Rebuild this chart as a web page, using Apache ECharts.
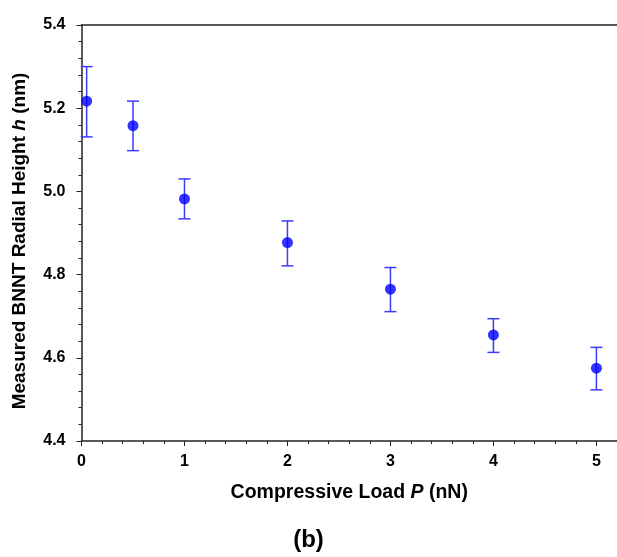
<!DOCTYPE html>
<html>
<head>
<meta charset="utf-8">
<script src="https://cdn.jsdelivr.net/npm/echarts@6/dist/echarts.min.js"></script>
<style>
  html, body { margin: 0; padding: 0; background: #fff; }
  #chart { width: 617px; height: 557px; }
</style>
</head>
<body>
<div id="chart"></div>
<script>
// compressive load P (nN)
const loads = [0.05, 0.5, 1, 2, 3, 4, 5];
// measured radial height h (nm)
const heights = [5.217, 5.158, 4.982, 4.877, 4.765, 4.655, 4.575];
// error bar ends
const errLow = [5.131, 5.098, 4.934, 4.821, 4.711, 4.613, 4.523];
const errHigh = [5.300, 5.217, 5.030, 4.929, 4.817, 4.694, 4.625];

const font = '"Liberation Sans", Arial, sans-serif';
const axisColor = '#222';

const chart = echarts.init(document.getElementById('chart'));

chart.setOption({
  animation: false,
  grid: { left: 81.5, top: 25, right: 0, bottom: 116 },
  xAxis: [
    {
      type: 'value',
      min: 0,
      max: 5.2,
      interval: 1,
      name: 'Compressive Load {i|P} (nN)',
      nameLocation: 'middle',
      nameGap: 42,
      nameTextStyle: {
        fontFamily: font, fontSize: 19.5, fontWeight: 'bold', color: '#000',
        rich: { i: { fontFamily: font, fontSize: 19.5, fontWeight: 'bold', fontStyle: 'italic', color: '#000' } }
      },
      axisLine: { lineStyle: { color: axisColor, width: 1.5 } },
      axisTick: { length: 5, lineStyle: { color: axisColor } },
      minorTick: { show: true, splitNumber: 5, length: 3, lineStyle: { color: axisColor } },
      splitLine: { show: false },
      axisLabel: {
        fontFamily: font, fontSize: 16, fontWeight: 'bold', color: '#000', margin: 13,
        showMaxLabel: false,
        formatter: v => (Number.isInteger(v) ? String(v) : '')
      }
    },
    {
      type: 'value',
      position: 'top',
      min: 0,
      max: 5.2,
      axisLine: { show: true, lineStyle: { color: axisColor, width: 1.5 } },
      axisTick: { show: false },
      axisLabel: { show: false },
      splitLine: { show: false }
    }
  ],
  yAxis: {
    type: 'value',
    min: 4.4,
    max: 5.4,
    interval: 0.2,
    name: 'Measured BNNT Radial Height {i|h} (nm)',
    nameLocation: 'middle',
    nameGap: 52,
    nameTextStyle: {
      fontFamily: font, fontSize: 19, fontWeight: 'bold', color: '#000',
      padding: [0, 16, 0, 0],
      rich: { i: { fontFamily: font, fontSize: 19, fontWeight: 'bold', fontStyle: 'italic', color: '#000' } }
    },
    axisLine: { show: true, lineStyle: { color: axisColor, width: 1.5 } },
    axisTick: { length: 5, lineStyle: { color: axisColor } },
    minorTick: { show: true, splitNumber: 5, length: 3, lineStyle: { color: axisColor } },
    splitLine: { show: false },
    axisLabel: {
      fontFamily: font, fontSize: 16, fontWeight: 'bold', color: '#000', margin: 16,
      formatter: v => v.toFixed(1)
    }
  },
  graphic: [
    {
      type: 'text',
      left: 'center',
      top: 528,
      style: { text: '(b)', font: 'bold 24px ' + font, fill: '#000' }
    }
  ],
  series: [
    {
      type: 'custom',
      data: loads.map((x, i) => [x, errLow[i], errHigh[i]]),
      renderItem: (params, api) => {
        const lo = api.coord([api.value(0), api.value(1)]);
        const hi = api.coord([api.value(0), api.value(2)]);
        const cap = 6;
        const style = { stroke: '#3b3bff', lineWidth: 1.5, fill: null };
        return {
          type: 'group',
          children: [
            { type: 'line', shape: { x1: lo[0], y1: lo[1], x2: hi[0], y2: hi[1] }, style },
            { type: 'line', shape: { x1: hi[0] - cap, y1: hi[1], x2: hi[0] + cap, y2: hi[1] }, style },
            { type: 'line', shape: { x1: lo[0] - cap, y1: lo[1], x2: lo[0] + cap, y2: lo[1] }, style }
          ]
        };
      },
      z: 2
    },
    {
      type: 'scatter',
      data: loads.map((x, i) => [x, heights[i]]),
      symbol: 'circle',
      symbolSize: 11,
      itemStyle: { color: '#0000ff' },
      z: 3
    }
  ]
});
</script>
</body>
</html>
